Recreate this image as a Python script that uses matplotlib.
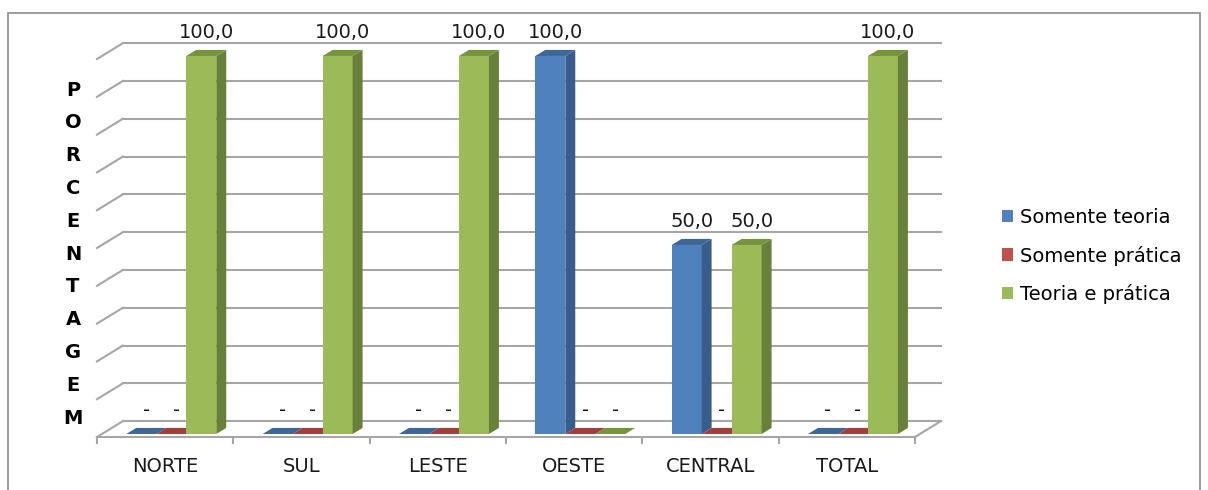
import matplotlib.pyplot as plt
from matplotlib.patches import Polygon, Rectangle, Patch

regioes = ["NORTE", "SUL", "LESTE", "OESTE", "CENTRAL", "TOTAL"]
series = ["Somente teoria", "Somente prática", "Teoria e prática"]
somente_teoria = [0.0, 0.0, 0.0, 100.0, 50.0, 0.0]
somente_pratica = [0.0, 0.0, 0.0, 0.0, 0.0, 0.0]
teoria_pratica = [100.0, 100.0, 100.0, 0.0, 50.0, 100.0]
valores = [somente_teoria, somente_pratica, teoria_pratica]
eixo_titulo = "PORCENTAGEM"

cor_frente = ["#4F81BD", "#C0504D", "#9BBB59"]
cor_lado = ["#385D8A", "#8C3836", "#68803A"]
cor_topo = ["#3D6799", "#A13F3C", "#77933C"]
cinza = "#A6A6A6"

# pseudo-3d offsets (data units)
WALL_DX, WALL_DY = 0.19, 4.2
BAR_OX, BAR_OY = 0.045, 0.8
BAR_DX, BAR_DY = 0.073, 1.6
BAR_W = 0.22

plt.rcParams['font.family'] = ['DejaVu Sans']

fig = plt.figure(figsize=(12.08, 4.90), dpi=100)
ax = fig.add_axes([97 / 1208, 53 / 490, 818 / 1208, 378 / 490])
ax.set_xlim(0, len(regioes))
ax.set_ylim(0, 100)
ax.axis('off')

n = len(regioes)
# gridlines on back wall + left wall diagonals
for v in range(0, 101, 10):
    ax.plot([WALL_DX, n + WALL_DX], [v + WALL_DY] * 2, color=cinza, lw=1.5, clip_on=False, zorder=1)
    ax.plot([0, WALL_DX], [v, v + WALL_DY], color=cinza, lw=1.5, clip_on=False, zorder=1)
# floor
ax.plot([0, n, n + WALL_DX], [0, 0, WALL_DY], color=cinza, lw=1.5, clip_on=False, zorder=1)
for i in range(n + 1):
    ax.plot([i, i], [0, -1.6], color=cinza, lw=1.5, clip_on=False, zorder=1)

z = 2
for i, reg in enumerate(regioes):
    for s in range(len(series)):
        v = valores[s][i]
        xl = i + 0.5 + (s - 1.5) * BAR_W + BAR_OX
        xr = xl + BAR_W
        y0 = BAR_OY
        y1 = v + BAR_OY
        ax.bar(xl, v, width=BAR_W, bottom=y0, align='edge', color=cor_frente[s],
               linewidth=0, zorder=z, clip_on=False)
        ax.add_patch(Polygon([(xr, y0), (xr + BAR_DX, y0 + BAR_DY), (xr + BAR_DX, y1 + BAR_DY), (xr, y1)],
                             closed=True, facecolor=cor_lado[s], lw=0, zorder=z, clip_on=False))
        ax.add_patch(Polygon([(xl, y1), (xr, y1), (xr + BAR_DX, y1 + BAR_DY), (xl + BAR_DX, y1 + BAR_DY)],
                             closed=True, facecolor=cor_topo[s], lw=0, zorder=z, clip_on=False))
        z += 1
        txt = f"{v:.1f}".replace(".", ",") if v else "-"
        ax.text((xl + xr) / 2 + BAR_DX / 2, y1 + 6.3, txt, ha='center', va='center',
                fontsize=14, color='#1a1a1a', clip_on=False, zorder=50)
    ax.text(i + 0.5, -7.9, reg, ha='center', va='center', fontsize=14, color='#1a1a1a', clip_on=False)

fig.text(73 / 1208, 1 - 254 / 490, "\n".join(eixo_titulo), ha='center', va='center',
         fontsize=14, fontweight='bold', linespacing=1.92)

handles = [Patch(facecolor=c, edgecolor='none') for c in cor_frente]
fig.legend(handles, series, loc='center left', bbox_to_anchor=(992 / 1208, 1 - 256 / 490),
           frameon=False, fontsize=14, handlelength=0.6, handleheight=0.6,
           handletextpad=0.35, labelspacing=0.95, borderpad=0)

fig.patches.append(Rectangle((8 / 1208, -0.1), 1192 / 1208, 1.1 - 13 / 490, transform=fig.transFigure,
                             fill=False, edgecolor='#8C8C8C', lw=1.2))

fig.savefig("out.png", dpi=100)
